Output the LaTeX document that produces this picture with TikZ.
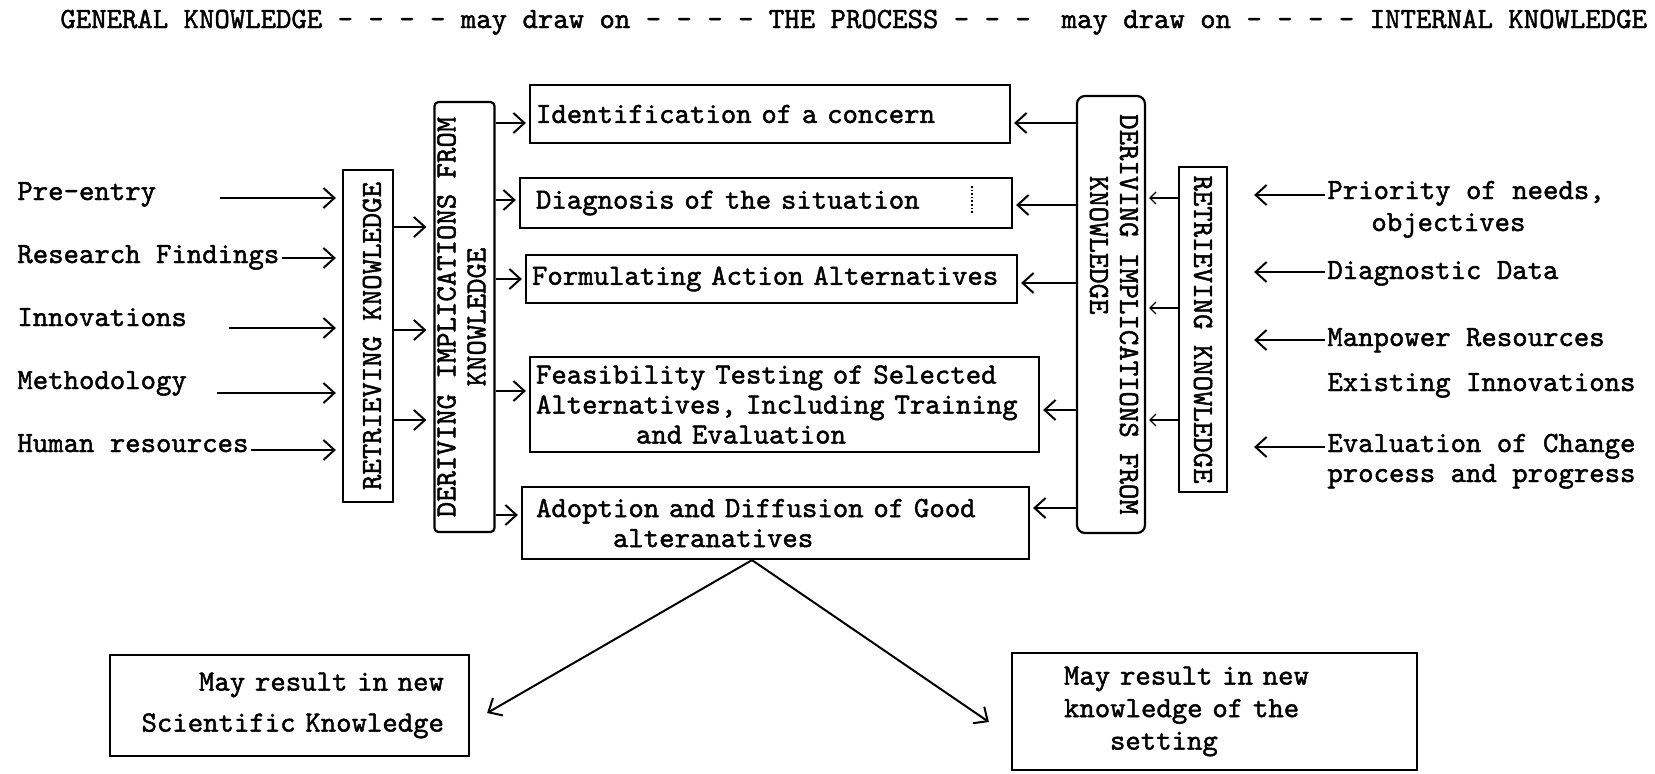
\documentclass[tikz,border=0pt]{standalone}
\usepackage{graphicx}
\usepackage{fontspec}
\usetikzlibrary{arrows.meta}
\newfontfamily\diagtt[FakeBold=1.5]{lmmono10-regular.otf}
\newcommand{\diagfont}{\fontsize{14.67}{15}\selectfont\diagtt}
\begin{document}
\begin{tikzpicture}[x=0.5pt,y=-0.5pt,
  every node/.style={font=\diagfont},
  boxline/.style={draw, line width=1.1pt},
  pbox/.style={boxline, align=left, inner ysep=2pt, minimum height=#1},
  vbox/.style={boxline, inner sep=0pt},
  lab/.style={anchor=base west, inner sep=0pt},
  arr/.style={line width=1pt, -{Straight Barb[length=5.5pt,width=10pt]}},
  thinarr/.style={line width=0.6pt, -{Straight Barb[length=3pt,width=6pt]}}]
\useasboundingbox (0,0) rectangle (1655,773);

% title
\node[lab] (title) at (60,28) {GENERAL KNOWLEDGE - - - - may draw on - - - - THE PROCESS - - -\ \ may draw on - - - - INTERNAL KNOWLEDGE};

% process boxes
\node[pbox=29pt, text width=234pt, inner xsep=3pt] (b1) at (770,114) {Identification of a concern};
\node[pbox=25pt, text width=230pt, inner xsep=8pt] (b2) at (766,203) {Diagnosis of the situation};
\node[pbox=24pt, text width=239.5pt, inner xsep=3pt] (b3) at (771.5,279) {Formulating Action Alternatives};
\node[pbox=47.5pt, text width=248.5pt, inner xsep=3pt] (b4) at (784.5,404.5) {Feasibility Testing of Selected\\Alternatives, Including Training\\\hspace*{50pt}and Evaluation};
\node[pbox=36pt, text width=239.5pt, inner xsep=7pt] (b5) at (775.5,523) {Adoption and Diffusion of Good\\\hspace*{38.5pt}alteranatives};
\draw[line width=0.8pt, densely dotted] (972,186) -- (972,213);

% vertical boxes
\node[vbox, minimum width=25pt, minimum height=166pt] (retL) at (368,336) {\hspace*{4pt}\rotatebox{90}{RETRIEVING KNOWLEDGE}};
\node[vbox, rounded corners=2pt, minimum width=29.5pt, minimum height=215pt] (derL) at (464.5,317) {\rotatebox{90}{\begin{tabular}{@{}c@{}}DERIVING IMPLICATIONS FROM\\KNOWLEDGE\end{tabular}}};
\node[vbox, rounded corners=4pt, minimum width=34pt, minimum height=218.5pt] (derR) at (1111,314.5) {\rotatebox{-90}{\begin{tabular}{@{}l@{}}DERIVING IMPLICATIONS FROM\\\hspace*{30.8pt}KNOWLEDGE\end{tabular}}};
\node[vbox, minimum width=24pt, minimum height=162.5pt] (retR) at (1203,329.5) {\rotatebox{-90}{RETRIEVING KNOWLEDGE}};

% left labels
\node[lab] (pre) at (17,200) {Pre-entry};
\node[lab] (res) at (17,263) {Research Findings};
\node[lab] (inn) at (17,326) {Innovations};
\node[lab] (met) at (17,389) {Methodology};
\node[lab] (hum) at (17,452) {Human resources};

% right labels
\node[lab] (pri) at (1327,199) {Priority of needs,};
\node[lab] (obj) at (1371,231) {objectives};
\node[lab] (dia) at (1327,279) {Diagnostic Data};
\node[lab] (man) at (1327,346) {Manpower Resources};
\node[lab] (exi) at (1327,391) {Existing Innovations};
\node[lab] (eva) at (1327,452) {Evaluation of Change};
\node[lab] (pro) at (1327,482) {process and progress};

% bottom boxes
\node[boxline, minimum height=50.5pt, text width=154.5pt, inner xsep=12.5pt, align=right,
      font={\fontsize{14.67}{20.5}\selectfont\diagtt}] (lb) at (289.5,705.5)
      {May result in new\\Scientific Knowledge};
\node[boxline, minimum height=58.5pt, text width=150.5pt, inner xsep=26pt, align=left,
      font={\fontsize{14.67}{16.25}\selectfont\diagtt}] (rb) at (1214.5,711.5)
      {May result in new\\knowledge of the\\\hspace*{23pt}setting};

% left label arrows
\coordinate (t1) at ([xshift=32pt,yshift=1pt]pre.base east);
\coordinate (t2) at ([xshift=1pt,yshift=2.5pt]res.base east);
\coordinate (t3) at ([xshift=21pt,yshift=-1pt]inn.base east);
\coordinate (t4) at ([xshift=15pt,yshift=-2pt]met.base east);
\coordinate (t5) at ([xshift=1pt,yshift=1pt]hum.base east);
\foreach \t in {t1,t2,t3,t4,t5}
  \draw[arr, shorten >=3pt] (\t) -- (\t -| retL.west);

% left retrieving -> deriving
\coordinate (m1) at ([yshift=54.5pt]retL.east);
\coordinate (m2) at ([yshift=3pt]retL.east);
\coordinate (m3) at ([yshift=-42pt]retL.east);
\foreach \m in {m1,m2,m3}
  \draw[arr, shorten >=3.5pt] (\m) -- (\m -| derL.west);

% left deriving -> process boxes
\coordinate (e1) at ([yshift=-4.5pt]b1.west);
\coordinate (e2) at ([yshift=1.5pt]b2.west);
\coordinate (e3) at (b3.west);
\coordinate (e4) at ([yshift=6.75pt]b4.west);
\coordinate (e5) at ([yshift=4pt]b5.west);
\foreach \e in {e1,e2,e3,e4,e5}
  \draw[arr, shorten >=1.5pt] (\e -| derL.east) -- (\e);

% right deriving -> process boxes
\coordinate (f1) at ([yshift=-4.5pt]b1.east);
\coordinate (f2) at ([yshift=-1pt]b2.east);
\coordinate (f3) at ([yshift=-2pt]b3.east);
\coordinate (f4) at ([yshift=-2.75pt]b4.east);
\coordinate (f5) at ([yshift=7.5pt]b5.east);
\foreach \f in {f1,f2,f3,f4,f5}
  \draw[arr, shorten >=1.5pt] (\f -| derR.west) -- (\f);

% right retrieving -> deriving (thin)
\coordinate (r1) at ([yshift=65.75pt]retR.west);
\coordinate (r2) at ([yshift=10.75pt]retR.west);
\coordinate (r3) at ([yshift=-45.25pt]retR.west);
\foreach \r in {r1,r2,r3}
  \draw[thinarr, shorten >=1.5pt] (\r) -- (\r -| derR.east);

% right label arrows
\coordinate (u1) at ([xshift=-1pt,yshift=2pt]pri.base west);
\coordinate (u2) at ([xshift=-1pt,yshift=3.5pt]dia.base west);
\coordinate (u3) at ([xshift=-1pt,yshift=3pt]man.base west);
\coordinate (u4) at ([xshift=-1pt,yshift=2.5pt]eva.base west);
\foreach \u in {u1,u2,u3,u4}
  \draw[arr, shorten >=13pt] (\u) -- (\u -| retR.east);

% outcome arrows
\coordinate (apex) at ([xshift=-11.75pt]b5.south);
\coordinate (lh) at ([shift={(17,7.5)}]lb.east);
\coordinate (rh) at ([shift={(-22,10.5)}]rb.west);
\draw[arr] (apex) -- (lh);
\draw[arr] (apex) -- (rh);
\end{tikzpicture}
\end{document}
